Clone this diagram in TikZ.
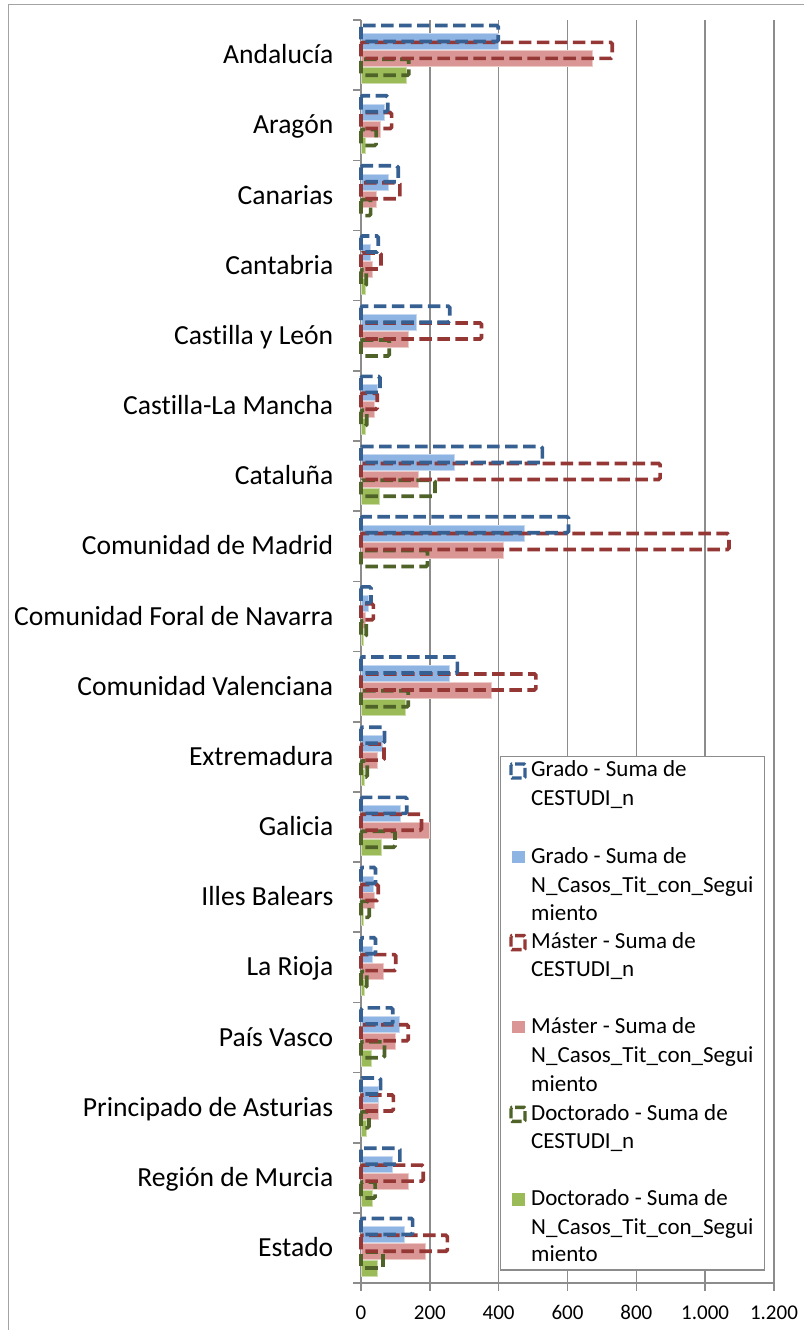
\documentclass[tikz,border=0pt]{standalone}
\usepackage{fontspec}
\setmainfont{Carlito}[Ligatures={NoCommon,NoContextual}, RawFeature={-liga;-clig;-calt;-dlig}]
\definecolor{gcD}{HTML}{376092}
\definecolor{gnF}{HTML}{8EB4E3}
\definecolor{mcD}{HTML}{953735}
\definecolor{mnF}{HTML}{D99694}
\definecolor{dcD}{HTML}{4F6228}
\definecolor{dnF}{HTML}{9BBB59}
\definecolor{gridc}{HTML}{8C8C8C}
\newcommand{\mybarF}[4]{%
  \ifdim #3pt>0pt
  \fill[#4, draw=#4!50!white, line width=1pt] (361,{#1+5.5+8.45*#2}) rectangle ({361+0.3442*#3},{#1+21.5+8.45*#2});
  \fi}
\newcommand{\mybarD}[4]{%
  \ifdim #3pt>0pt
  \draw[dashbar, #4] (361,{#1+5.5+8.45*#2}) rectangle ({361+0.3442*#3},{#1+21.5+8.45*#2});
  \fi}
\begin{document}
\begin{tikzpicture}[x=1pt,y=-1pt,
  dashbar/.style={line width=3.7pt, dash pattern=on 12.5pt off 5.5pt, rounded corners=1.5pt},
  gridline/.style={draw=gridc, line width=1.6pt},
  catlabel/.style={anchor=base east, font=\fontsize{27.6}{30}\selectfont, inner sep=0pt},
  numlabel/.style={anchor=base, font=\fontsize{21}{24}\selectfont, inner sep=0pt},
  legtext/.style={anchor=base west, font=\fontsize{23}{26}\selectfont, inner sep=0pt},
  legdash/.style={line width=3.4pt, dash pattern=on 10pt off 3pt, rounded corners=1pt},
  legfill/.style={draw=none}]
\useasboundingbox[fill=white] (0,0) rectangle (803,1330);
% outer frame (top and left visible)
\draw[gridc!80!white, line width=1.5pt] (8.3,1331) -- (8.3,4.7) -- (804,4.7);
% vertical gridlines and bottom ticks
\foreach \j in {1,...,6} \draw[gridline] ({361+68.83*\j},20) -- ({361+68.83*\j},1291);
\draw[gridline] (361,1283) -- (361,1291);
% axes
\draw[gridline] (361,20) -- (361,1283);
\draw[gridline] (353,1283) -- (774.8,1283);
\foreach \i in {0,...,17} \draw[gridline] (353,{20+70.17*\i}) -- (361,{20+70.17*\i});
% bars
\foreach \i/\gc/\gn/\mc/\mn/\dc/\dn/\name in {
 0/399/400/730/673/139/133/Andalucía,
 1/77.5/67/89/57/44/12/Aragón,
 2/108/81/113/44/28/0/Canarias,
 3/50/28/58/34/15.5/12/Cantabria,
 4/258/162/350/139/82/0/Castilla y León,
 5/55/48/47/39/16.5/12/Castilla-La Mancha,
 6/527/271/869/168/215/55/Cataluña,
 7/603/476/1069/414/193/0/Comunidad de Madrid,
 8/29/21/36/12/15/7/Comunidad Foral de Navarra,
 9/280/257/508/380/137.5/130/Comunidad Valenciana,
 10/68/61/67/47.5/18/11/Extremadura,
 11/133/116/176/198/99/60/Galicia,
 12/42/36/50/38/24/7/Illes Balears,
 13/42/34/101/65/16.5/9/La Rioja,
 14/92/111/137.5/99/68/31/País Vasco,
 15/57/51/94/51/23/16.5/Principado de Asturias,
 16/113/92/181/137.5/41/33/Región de Murcia,
 17/150/125/251/186/63/47/Estado}{
  \pgfmathsetmacro\T{20+70.17*\i}
  \mybarF{\T}{1}{\gn}{gnF}
  \mybarF{\T}{3}{\mn}{mnF}
  \mybarF{\T}{5}{\dn}{dnF}
  \mybarD{\T}{4}{\dc}{dcD}
  \mybarD{\T}{2}{\mc}{mcD}
  \mybarD{\T}{0}{\gc}{gcD}
  \node[catlabel] (cat\i) at (333.5,{\T+35.1+8.6}) {\name};
}
% axis numbers
\foreach \j/\lab in {0/0,1/200,2/400,3/600,4/800,5/{1.000},6/{1.200}}
  \node[numlabel] (num\j) at ({361+68.83*\j},1319.3) {\lab};
% legend
\node[draw=gridc, fill=white, line width=1.2pt, minimum width=263.7pt, minimum height=513.3pt, anchor=north west, inner sep=0pt] (legend) at (500,756) {};
\draw[legdash, gcD] (511,764) rectangle (525,778);
\fill[gnF] (512,850.8) rectangle (525,863.3);
\draw[legdash, mcD] (511,935.6) rectangle (525,949.6);
\fill[mnF] (512,1020.5) rectangle (525,1033);
\draw[legdash, dcD] (511,1107.3) rectangle (525,1121.3);
\fill[dnF] (512,1193.2) rectangle (525,1205.7);
\node[legtext] (l1a) at (531,776.7) {Grado - Suma de};
\node[legtext] (l1b) at (531,805.7) {CESTUDI\_n};
\node[legtext] (l2a) at (531,863.3) {Grado - Suma de};
\node[legtext] (l2b) at (531,892) {N\_Casos\_Tit\_con\_Segui};
\node[legtext] (l2c) at (531,920) {miento};
\node[legtext] (l3a) at (531,948.3) {Máster - Suma de};
\node[legtext] (l3b) at (531,976.7) {CESTUDI\_n};
\node[legtext] (l4a) at (531,1033) {Máster - Suma de};
\node[legtext] (l4b) at (531,1062.7) {N\_Casos\_Tit\_con\_Segui};
\node[legtext] (l4c) at (531,1091) {miento};
\node[legtext] (l5a) at (531,1120) {Doctorado - Suma de};
\node[legtext] (l5b) at (531,1148.3) {CESTUDI\_n};
\node[legtext] (l6a) at (531,1205.7) {Doctorado - Suma de};
\node[legtext] (l6b) at (531,1234) {N\_Casos\_Tit\_con\_Segui};
\node[legtext] (l6c) at (531,1261.7) {miento};
\end{tikzpicture}
\end{document}
